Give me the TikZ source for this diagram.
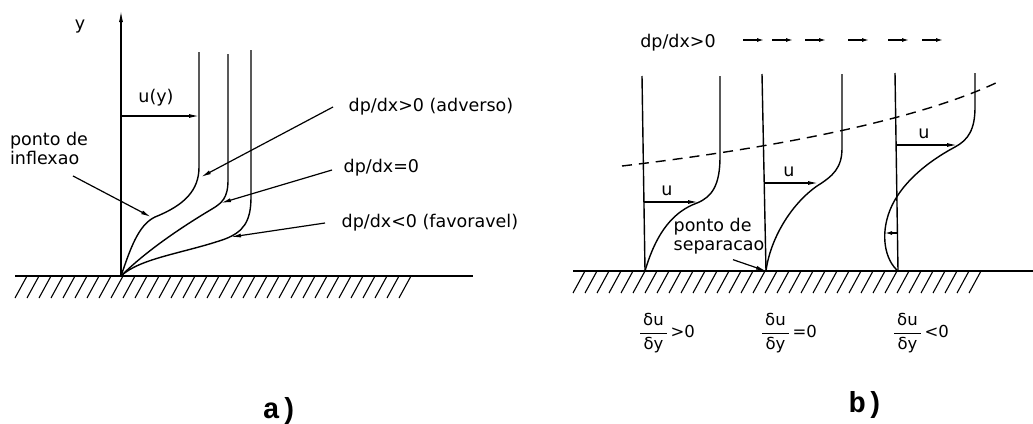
\documentclass[tikz,border=0pt]{standalone}
\usepackage{fontspec}
\setmainfont{DejaVu Sans}
\newfontfamily\capfont{Liberation Mono}
\usepackage{tikz}
\usetikzlibrary{arrows.meta}

\begin{document}
\begin{tikzpicture}[x=1pt,y=-1pt,line width=1.4pt,
  lab/.style={font=\fontsize{17.5}{19}\selectfont,inner sep=1pt},
  frc/.style={font=\fontsize{16.5}{18}\selectfont,inner sep=1pt},
  figlab/.style={font=\capfont\bfseries\fontsize{29}{31}\selectfont,inner sep=0pt},
  rx/.style={-{Latex[length=10pt,width=4pt]},line width=1.2pt},
  sx/.style={-{Latex[length=7pt,width=4pt]},line width=1.3pt},
  ht/.style={line width=1.1pt},
  bl/.style={dash pattern=on 10pt off 7pt,line width=1.4pt}]
  \useasboundingbox (0,0) rectangle (1033,423);
  % a)
  \coordinate (O) at (121,276);
  \coordinate (Ytop) at (121,10);
  \draw[-{Latex[length=12pt,width=4pt]}] (O) -- (Ytop);
  \node[lab] (ylab) at (80,27) {y};
  \draw (15,276) -- (473,276);
  \foreach \x in {27,39,...,417} \draw[ht] (\x,276) -- ++(-12,22);
  \draw (199,52) -- (199,167) .. controls (199,190) and (185,205) .. (155,217) .. controls (138,225) and (130,250) .. (O);
  \draw (228,54) -- (228,180) .. controls (228,198) and (222,203) .. (212,209) .. controls (180,228) and (145,252) .. (O);
  \draw (251,50) -- (251,197) .. controls (251,222) and (243,232) .. (225,239) .. controls (185,253) and (140,258) .. (O);
  \coordinate (pA) at (201,177);
  \coordinate (pI) at (151,217);
  \coordinate (pB) at (221,203);
  \coordinate (pC) at (231,237);
  \coordinate (u0) at (121,116);
  \coordinate (u1) at (199,116);
  \draw[rx] (u0) -- (u1);
  \node[lab] (uylab) at (156,98) {u(y)};
  \node[lab,anchor=west] (adv) at (347,107) {dp/dx>0 (adverso)};
  \node[lab,anchor=west] (zer) at (342,168) {dp/dx=0};
  \node[lab,anchor=west] (fav) at (340,223) {dp/dx<0 (favoravel)};
  \node[lab,align=left] (infl) at (49,148) {ponto de\\inflexao};
  \draw[rx] (adv.west) ++(-14,0) -- (pA);
  \draw[rx] (zer.west) ++(-10,2) -- (pB);
  \draw[rx] (fav.west) ++(-15,0) -- (pC);
  \draw[rx] (infl.south) ++(24,10) -- (pI);
  \node[figlab] (ca) at (280,411) {a)};
  % b)
  \draw (573,271) -- (1033,271);
  \foreach \x in {585,597,...,983} \draw[ht] (\x,271) -- ++(-12,22);
  \coordinate (B1) at (645,271);
  \coordinate (B2) at (766,271);
  \coordinate (B3) at (898,271);
  \draw (642,76) -- (B1);
  \draw (762,74) -- (B2);
  \draw (895,73) -- (B3);
  \draw (720,76) -- (720,157) .. controls (720,185) and (712,197) .. (697,203) .. controls (675,211) and (657,230) .. (B1);
  \draw (842,74) -- (842,148) .. controls (842,168) and (833,176) .. (817,186) .. controls (790,205) and (770,240) .. (B2);
  \draw (975,73) -- (975,107) .. controls (975,130) and (968,140) .. (955,147) .. controls (925,163) and (900,185) .. (890,210) .. controls (880,235) and (885,260) .. (B3);
  \draw[bl] (622,166) .. controls (800,145) and (930,115) .. (1000,81);
  \coordinate (a1) at (644,202);
  \coordinate (e1) at (698,202);
  \coordinate (a2) at (765,183);
  \coordinate (e2) at (818,183);
  \coordinate (a3) at (897,145);
  \coordinate (e3) at (957,145);
  \coordinate (a4) at (897,233);
  \coordinate (e4) at (885,233);
  \draw[rx] (a1) -- (e1);
  \draw[rx] (a2) -- (e2);
  \draw[rx] (a3) -- (e3);
  \draw[sx] (a4) -- (e4);
  \node[lab] (u1lab) at (667,191) {u};
  \node[lab] (u2lab) at (789,172) {u};
  \node[lab] (u3lab) at (924,134) {u};
  \node[lab] (dpdx) at (678,43) {dp/dx>0};
  \foreach \x in {743,772,805,848,888,922} \draw[sx] (\x,40) -- ++(21,0);
  \node[lab,align=left] (sep) at (719,236) {ponto de\\separacao};
  \draw[rx] (sep.south) ++(14,4) -- (B2);
  \node[frc] (f1) at (667,333) {$\displaystyle\frac{\,\hbox{δu}\,}{\hbox{δy}}$\,>0};
  \node[frc] (f2) at (789,333) {$\displaystyle\frac{\,\hbox{δu}\,}{\hbox{δy}}$\,=0};
  \node[frc] (f3) at (921,333) {$\displaystyle\frac{\,\hbox{δu}\,}{\hbox{δy}}$\,<0};
  \node[figlab] (cb) at (866,405) {b)};
\end{tikzpicture}
\end{document}
